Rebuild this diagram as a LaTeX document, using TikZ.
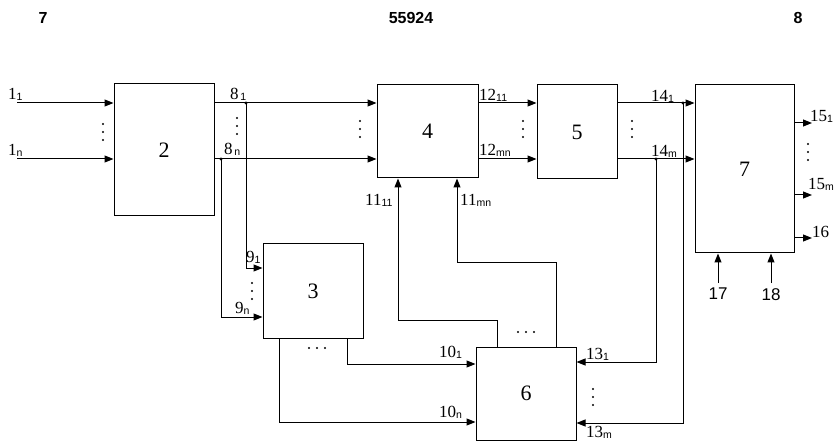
\documentclass[tikz,border=0pt]{standalone}
\usepackage{fontspec}
\setmainfont{Liberation Serif}
\setsansfont{Liberation Sans}
\usetikzlibrary{arrows.meta}
\newcommand{\lbl}[2]{#1\raisebox{-1pt}{\fontsize{10.5}{10.5}\selectfont\sffamily #2}}

\begin{document}
\begin{tikzpicture}[x=1pt, y=-1pt,
    block/.style={draw, line width=1pt, inner sep=0pt, font=\fontsize{22}{22}\selectfont},
    arrow/.style={-{Triangle[length=9pt, width=7pt]}, line width=1pt},
    tag/.style={font=\fontsize{17}{17}\selectfont, inner sep=0pt, anchor=base west},
    head/.style={font=\fontsize{16}{16}\selectfont\sffamily\bfseries},
    pin/.style={font=\fontsize{17}{17}\selectfont\sffamily, inner sep=0pt}
]
\useasboundingbox (0,0) rectangle (840,446);

% page header
\node[head] (h7) at (43,18) {7};
\node[head] (hno) at (411,18) {55924};
\node[head] (h8) at (798,18) {8};

% blocks
\node[block, minimum width=100pt, minimum height=132pt] (b2) at (164,150) {2};
\node[block, minimum width=100pt, minimum height=94pt] (b3) at (313,291) {3};
\node[block, minimum width=101pt, minimum height=93pt] (b4) at (427.5,131.5) {4};
\node[block, minimum width=80pt, minimum height=94pt] (b5) at (577,132) {5};
\node[block, minimum width=100pt, minimum height=93pt] (b6) at (526,393.5) {6};
\node[block, minimum width=99pt, minimum height=168pt] (b7) at (744.5,169) {7};

% levels and branch points
\coordinate (r1) at (17,103);
\coordinate (rn) at (17,159);
\coordinate (j81) at (246,103);
\coordinate (j8n) at (221,159);
\coordinate (j141) at (683,103);
\coordinate (j14m) at (656,159);
\coordinate (r91) at (0,268);
\coordinate (r9n) at (0,317);
\coordinate (r101) at (0,364);
\coordinate (r10n) at (0,422);
\coordinate (r111) at (0,320);
\coordinate (r11m) at (0,263);
\coordinate (r131) at (0,362);
\coordinate (r13m) at (0,423);
\coordinate (o1) at (812,123);
\coordinate (o2) at (812,195);
\coordinate (o3) at (812,238);
\coordinate (p17) at (718,283);
\coordinate (p18) at (771,283);

% main chain
\draw[arrow] (r1) -- (r1 -| b2.west);
\draw[arrow] (rn) -- (rn -| b2.west);
\draw[arrow] (r1 -| b2.east) -- (r1 -| b4.west);
\draw[arrow] (rn -| b2.east) -- (rn -| b4.west);
\draw[arrow] (r1 -| b4.east) -- (r1 -| b5.west);
\draw[arrow] (rn -| b4.east) -- (rn -| b5.west);
\draw[arrow] (r1 -| b5.east) -- (r1 -| b7.west);
\draw[arrow] (rn -| b5.east) -- (rn -| b7.west);

% branches
\draw[arrow] (j81) |- (r91 -| b3.west);
\draw[arrow] (j8n) |- (r9n -| b3.west);
\draw[arrow] ([xshift=34pt]b3.south) |- (r101 -| b6.west);
\draw[arrow] ([xshift=-34pt]b3.south) |- (r10n -| b6.west);
\draw[arrow] ([xshift=-29pt]b6.north) -- ([xshift=-29pt]b6.north |- r111) -| ([xshift=-29.5pt]b4.south);
\draw[arrow] ([xshift=30pt]b6.north) -- ([xshift=30pt]b6.north |- r11m) -| ([xshift=29.5pt]b4.south);
\draw[arrow] (j14m) |- (r131 -| b6.east);
\draw[arrow] (j141) |- (r13m -| b6.east);
\foreach \j in {j81, j8n, j141, j14m}
    \fill (\j) circle (1.6);

% outputs and control inputs
\foreach \o in {o1, o2, o3}
    \draw[arrow] (\o -| b7.east) -- (\o);
\draw[arrow] (p17) -- (p17 |- b7.south);
\draw[arrow] (p18) -- (p18 |- b7.south);
\node[pin, below=5pt] (t17) at (p17) {17};
\node[pin, below=5pt] (t18) at (p18) {18};

% dots
\foreach \x/\y in {103/132, 237/126, 360/129, 523/129, 632/129, 252/291, 593/397, 808/152}
    \foreach \k in {-8,0,8}
        \fill (\x,\y+\k) circle (1.2);
\foreach \x/\y in {317/348, 526/332}
    \foreach \k in {-8,0,8}
        \fill (\x+\k,\y) circle (1.2);

% signal labels
\node[tag] at (8,100) {\lbl{1}{1}};
\node[tag] at (8,156) {\lbl{1}{n}};
\node[tag] at (230,100) {\lbl{8}{\,1}};
\node[tag] at (224,155) {\lbl{8}{\,n}};
\node[tag] at (479,101) {\lbl{12}{11}};
\node[tag] at (479,156) {\lbl{12}{mn}};
\node[tag] at (651,102) {\lbl{14}{1}};
\node[tag] at (651,157) {\lbl{14}{m}};
\node[tag] at (365,206) {\lbl{11}{11}};
\node[tag] at (460,206) {\lbl{11}{mn}};
\node[tag] at (246,262) {\lbl{9}{1}};
\node[tag] at (235,313) {\lbl{9}{n}};
\node[tag] at (439,357) {\lbl{10}{1}};
\node[tag] at (439,417) {\lbl{10}{n}};
\node[tag] at (586,359) {\lbl{13}{1}};
\node[tag] at (586,437) {\lbl{13}{m}};
\node[tag] at (810,122) {\lbl{15}{1}};
\node[tag] at (808,190) {\lbl{15}{m}};
\node[tag] at (812,238) {16};

\end{tikzpicture}
\end{document}
